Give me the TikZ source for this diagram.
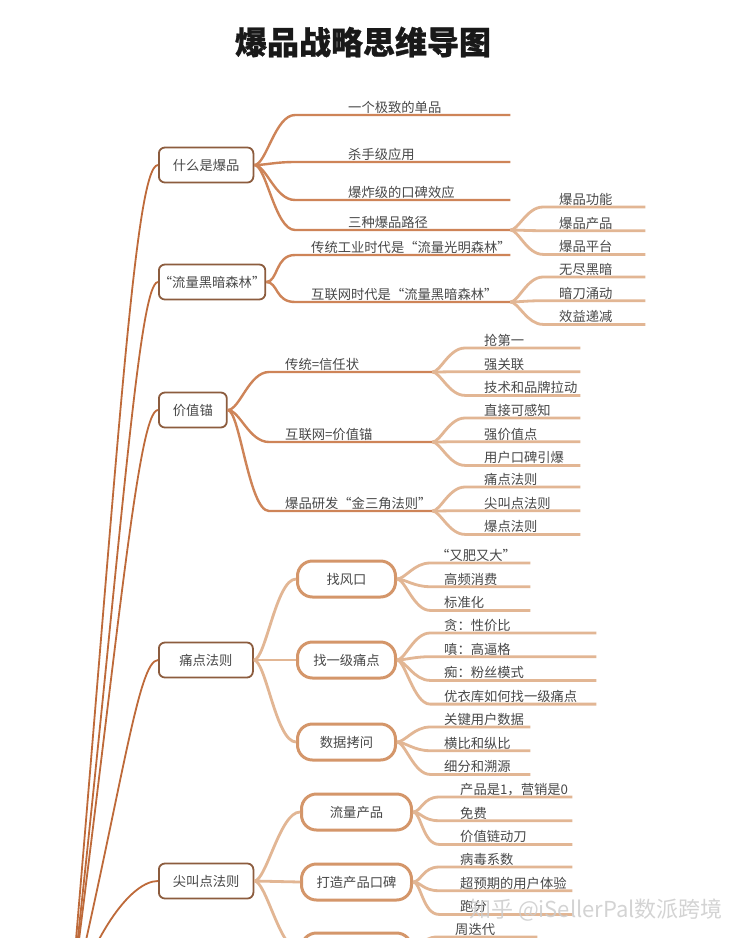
\documentclass[tikz,border=0pt]{standalone}
\usepackage{fontspec}
\setmainfont{Noto Sans CJK SC}
\usetikzlibrary{positioning}
\definecolor{ink}{RGB}{72,72,72}
\definecolor{boxline}{RGB}{140,92,62}
\definecolor{trunkline}{RGB}{190,106,58}
\definecolor{twigline}{RGB}{206,132,88}
\definecolor{leafline}{RGB}{226,182,148}
\definecolor{pillline}{RGB}{212,150,106}
\tikzset{
    every node/.append style={font=\fontsize{13.3}{16}\selectfont},
    topic/.style={rectangle, rounded corners=6pt, draw=boxline, fill=white, line width=1.8pt, minimum height=35pt, inner xsep=14pt, text=ink},
    pill/.style={rectangle, rounded corners=15pt, draw=pillline, fill=white, line width=3pt, minimum height=36pt, text=ink},
    leaf/.style 2 args={anchor=south west, inner xsep=#1, inner ysep=1.5pt, text width=#2, align=left, text height=10pt, text depth=1pt, text=ink},
    trunk/.style={draw=trunkline, line width=1.8pt},
    twig/.style={draw=twigline, line width=2.4pt},
    sprig/.style={draw=leafline, line width=2.8pt},
}
\begin{document}
\begin{tikzpicture}[x=1pt, y=-1pt, node distance=9.3pt]
    \useasboundingbox (0,0) rectangle (740,938);
    \clip (0,0) rectangle (740,938);
    \fill[white] (0,0) rectangle (740,938);
    \node [font=\fontsize{32}{36}\selectfont\bfseries\addfontfeatures{FakeBold=0.8}, text=black!90] (title) at (363,42) {爆品战略思维导图};
    % main topics
    \coordinate (root) at (70,1010);
    \node [topic, anchor=west] (what) at (158,165) {什么是爆品};
    \node [topic, anchor=west, inner xsep=0pt] (forest) at (158,282) {“流量黑暗森林”};
    \node [topic, anchor=west] (value) at (158,410) {价值锚};
    \node [topic, anchor=west, minimum width=94pt] (pain) at (158,660) {痛点法则};
    \node [topic, anchor=west] (scream) at (158,881) {尖叫点法则};
    \draw[trunk] (root) .. controls (118,450) and +(-23,0) .. (what.west);
    \draw[trunk] (root) .. controls (120,560) and +(-20,0) .. (forest.west);
    \draw[trunk] (root) .. controls (118,640) and +(-20,0) .. (value.west);
    \draw[trunk] (root) .. controls (122,790) and +(-20,0) .. (pain.west);
    \draw[trunk] (root) .. controls (95,930) and +(-26,0) .. (scream.west);
    % what
    \node [leaf={53pt}{109pt}] (single) at (295,115) {一个极致的单品};
    \node [leaf={53pt}{109pt}] (killer) at (295,162) {杀手级应用};
    \node [leaf={53pt}{109pt}] (buzz) at (295,200) {爆炸级的口碑效应};
    \node [leaf={53pt}{109pt}] (paths) at (295,230) {三种爆品路径};
    \node [leaf={16pt}{70pt}] (func) at (543,207) {爆品功能};
    \node [leaf={16pt}{70pt}] (prod) [below=of func] {爆品产品};
    \node [leaf={16pt}{70pt}] (plat) [below=of prod] {爆品平台};
    \draw[twig] (what.east) .. controls +(12,0) and +(-20,0) .. (single.south west) -- (single.south east);
    \draw[twig] (what.east) .. controls +(12,0) and +(-20,0) .. (killer.south west) -- (killer.south east);
    \draw[twig] (what.east) .. controls +(12,0) and +(-20,0) .. (buzz.south west) -- (buzz.south east);
    \draw[twig] (what.east) .. controls +(12,0) and +(-20,0) .. (paths.south west) -- (paths.south east);
    \draw[sprig] (paths.south east) .. controls +(8,0) and +(-16,0) .. (func.south west) -- (func.south east);
    \draw[sprig] (paths.south east) .. controls +(8,0) and +(-16,0) .. (prod.south west) -- (prod.south east);
    \draw[sprig] (paths.south east) .. controls +(8,0) and +(-16,0) .. (plat.south west) -- (plat.south east);
    % forest
    \node [leaf={16pt}{183pt}] (bright) at (295,255) {传统工业时代是“流量光明森林”};
    \node [leaf={16pt}{183pt}] (dark) at (295,302) {互联网时代是“流量黑暗森林”};
    \node [leaf={16pt}{70pt}] (endless) at (543,277) {无尽黑暗};
    \node [leaf={16pt}{70pt}] (knife) [below=of endless] {暗刀涌动};
    \node [leaf={16pt}{70pt}] (decline) [below=of knife] {效益递减};
    \draw[twig] (forest.east) .. controls +(12,0) and +(-20,0) .. (bright.south west) -- (bright.south east);
    \draw[twig] (forest.east) .. controls +(12,0) and +(-20,0) .. (dark.south west) -- (dark.south east);
    \draw[sprig] (dark.south east) .. controls +(8,0) and +(-16,0) .. (endless.south west) -- (endless.south east);
    \draw[sprig] (dark.south east) .. controls +(8,0) and +(-16,0) .. (knife.south west) -- (knife.south east);
    \draw[sprig] (dark.south east) .. controls +(8,0) and +(-16,0) .. (decline.south west) -- (decline.south east);
    % value anchor
    \node [leaf={16pt}{131pt}] (trad) at (269,372) {传统=信任状};
    \node [leaf={16pt}{131pt}] (net) at (269,442) {互联网=价值锚};
    \node [leaf={16pt}{131pt}] (tri) at (269,511) {爆品研发“金三角法则”};
    \node [leaf={19pt}{77pt}] (first) at (465,348) {抢第一};
    \node [leaf={19pt}{77pt}] (tie) [below=of first] {强关联};
    \node [leaf={19pt}{77pt}] (tech) [below=of tie] {技术和品牌拉动};
    \node [leaf={19pt}{77pt}] (direct) at (465,418) {直接可感知};
    \node [leaf={19pt}{77pt}] (strong) [below=of direct] {强价值点};
    \node [leaf={19pt}{77pt}] (ignite) [below=of strong] {用户口碑引爆};
    \node [leaf={19pt}{77pt}] (painrule) at (465,487) {痛点法则};
    \node [leaf={19pt}{77pt}] (screamrule) [below=of painrule] {尖叫点法则};
    \node [leaf={19pt}{77pt}] (boomrule) [below=of screamrule] {爆点法则};
    \draw[twig] (value.east) .. controls +(12,0) and +(-20,0) .. (trad.south west) -- (trad.south east);
    \draw[twig] (value.east) .. controls +(12,0) and +(-20,0) .. (net.south west) -- (net.south east);
    \draw[twig] (value.east) .. controls +(12,0) and +(-20,0) .. (tri.south west) -- (tri.south east);
    \draw[sprig] (trad.south east) .. controls +(8,0) and +(-16,0) .. (first.south west) -- (first.south east);
    \draw[sprig] (trad.south east) .. controls +(8,0) and +(-16,0) .. (tie.south west) -- (tie.south east);
    \draw[sprig] (trad.south east) .. controls +(8,0) and +(-16,0) .. (tech.south west) -- (tech.south east);
    \draw[sprig] (net.south east) .. controls +(8,0) and +(-16,0) .. (direct.south west) -- (direct.south east);
    \draw[sprig] (net.south east) .. controls +(8,0) and +(-16,0) .. (strong.south west) -- (strong.south east);
    \draw[sprig] (net.south east) .. controls +(8,0) and +(-16,0) .. (ignite.south west) -- (ignite.south east);
    \draw[sprig] (tri.south east) .. controls +(8,0) and +(-16,0) .. (painrule.south west) -- (painrule.south east);
    \draw[sprig] (tri.south east) .. controls +(8,0) and +(-16,0) .. (screamrule.south west) -- (screamrule.south east);
    \draw[sprig] (tri.south east) .. controls +(8,0) and +(-16,0) .. (boomrule.south west) -- (boomrule.south east);
    % pain points
    \node [pill, anchor=west, minimum width=98pt] (vent) at (296,579) {找风口};
    \node [pill, anchor=west, minimum width=98pt] (primary) at (296,660) {找一级痛点};
    \node [pill, anchor=west, minimum width=98pt] (data) at (296,742) {数据拷问};
    \node [leaf={6pt}{88pt}] (fat) at (430,563) {“又肥又大”};
    \node [leaf={14pt}{72pt}] (freq) [below=of fat] {高频消费};
    \node [leaf={14pt}{72pt}] (std) [below=of freq] {标准化};
    \node [leaf={14pt}{138pt}] (greed) at (430,633) {贪：性价比};
    \node [leaf={14pt}{138pt}] (anger) [below=of greed] {嗔：高逼格};
    \node [leaf={14pt}{138pt}] (folly) [below=of anger] {痴：粉丝模式};
    \node [leaf={14pt}{138pt}] (uniqlo) [below=of folly] {优衣库如何找一级痛点};
    \node [leaf={14pt}{72pt}] (keyuser) at (430,727) {关键用户数据};
    \node [leaf={14pt}{72pt}] (compare) [below=of keyuser] {横比和纵比};
    \node [leaf={14pt}{72pt}] (trace) [below=of compare] {细分和溯源};
    \draw[sprig] (pain.east) .. controls +(12,0) and +(-20,0) .. (vent.west);
    \draw[sprig] (pain.east) -- (primary.west);
    \draw[sprig] (pain.east) .. controls +(12,0) and +(-20,0) .. (data.west);
    \draw[sprig] (vent.east) .. controls +(8,0) and +(-16,0) .. (fat.south west) -- (fat.south east);
    \draw[sprig] (vent.east) .. controls +(8,0) and +(-16,0) .. (freq.south west) -- (freq.south east);
    \draw[sprig] (vent.east) .. controls +(8,0) and +(-16,0) .. (std.south west) -- (std.south east);
    \draw[sprig] (primary.east) .. controls +(8,0) and +(-16,0) .. (greed.south west) -- (greed.south east);
    \draw[sprig] (primary.east) .. controls +(8,0) and +(-16,0) .. (anger.south west) -- (anger.south east);
    \draw[sprig] (primary.east) .. controls +(8,0) and +(-16,0) .. (folly.south west) -- (folly.south east);
    \draw[sprig] (primary.east) .. controls +(8,0) and +(-16,0) .. (uniqlo.south west) -- (uniqlo.south east);
    \draw[sprig] (data.east) .. controls +(8,0) and +(-16,0) .. (keyuser.south west) -- (keyuser.south east);
    \draw[sprig] (data.east) .. controls +(8,0) and +(-16,0) .. (compare.south west) -- (compare.south east);
    \draw[sprig] (data.east) .. controls +(8,0) and +(-16,0) .. (trace.south west) -- (trace.south east);
    % scream points
    \node [pill, anchor=west, minimum width=110pt] (traffic) at (300,812) {流量产品};
    \node [pill, anchor=west, minimum width=110pt] (wom) at (300,882) {打造产品口碑};
    \node [pill, anchor=west, minimum width=110pt] (iter) at (300,951) {};
    \node [leaf={21pt}{91pt}] (zero) at (439,797) {产品是1，营销是0};
    \node [leaf={21pt}{91pt}] (free) [below=of zero] {免费};
    \node [leaf={21pt}{91pt}] (chain) [below=of free] {价值链动刀};
    \node [leaf={21pt}{91pt}] (virus) at (439,867) {病毒系数};
    \node [leaf={21pt}{91pt}] (beyond) [below=of virus] {超预期的用户体验};
    \node [leaf={21pt}{91pt}] (bench) [below=of beyond] {跑分};
    \node [leaf={18pt}{64pt}] (weekly) at (437,937) {周迭代};
    \draw[sprig] (scream.east) .. controls +(12,0) and +(-20,0) .. (traffic.west);
    \draw[sprig] (scream.east) -- (wom.west);
    \draw[sprig] (scream.east) .. controls +(12,0) and +(-20,0) .. (iter.west);
    \draw[sprig] (traffic.east) .. controls +(8,0) and +(-16,0) .. (zero.south west) -- (zero.south east);
    \draw[sprig] (traffic.east) .. controls +(8,0) and +(-16,0) .. (free.south west) -- (free.south east);
    \draw[sprig] (traffic.east) .. controls +(8,0) and +(-16,0) .. (chain.south west) -- (chain.south east);
    \draw[sprig] (wom.east) .. controls +(8,0) and +(-16,0) .. (virus.south west) -- (virus.south east);
    \draw[sprig] (wom.east) .. controls +(8,0) and +(-16,0) .. (beyond.south west) -- (beyond.south east);
    \draw[sprig] (wom.east) .. controls +(8,0) and +(-16,0) .. (bench.south west) -- (bench.south east);
    \draw[sprig] (iter.east) .. controls +(8,0) and +(-16,0) .. (weekly.south west) -- (weekly.south east);
    % watermark
    \node [font=\fontsize{22}{24}\selectfont, text=gray!40, opacity=0.85] (wm) at (596,910) {知乎 @iSellerPal数派跨境};
\end{tikzpicture}
\end{document}
